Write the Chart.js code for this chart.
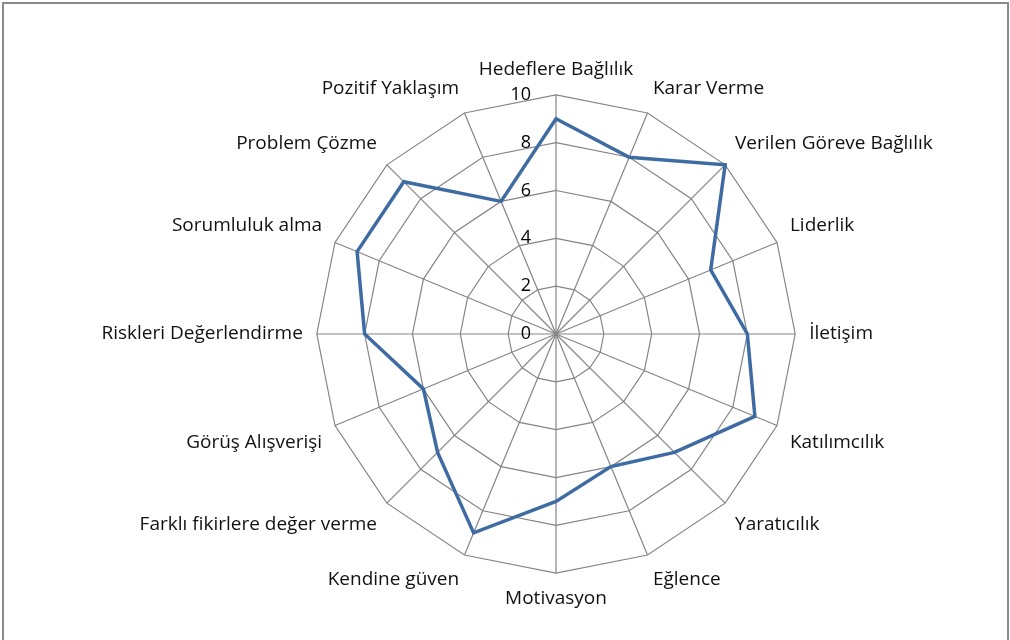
<!DOCTYPE html>
<html>
<head>
<meta charset="utf-8">
<script src="https://cdn.jsdelivr.net/npm/chart.js@4/dist/chart.umd.min.js"></script>
<style>
  html, body { margin: 0; padding: 0; background: #fff; overflow: hidden; }
  #frame { position: absolute; left: 2px; top: 2px; width: 1003px; height: 700px; border: 2px solid #8a8a8a; }
  #wrap { position: absolute; left: 0; top: 0; width: 1010px; height: 640px; }
</style>
</head>
<body>
<div id="frame"></div>
<div id="wrap"><canvas id="c" width="1010" height="640"></canvas></div>
<script>
// categories (clockwise from top)
const categories = [
  'Hedeflere Bağlılık', 'Karar Verme', 'Verilen Göreve Bağlılık', 'Liderlik',
  'İletişim', 'Katılımcılık', 'Yaratıcılık', 'Eğlence', 'Motivasyon',
  'Kendine güven', 'Farklı fikirlere değer verme', 'Görüş Alışverişi',
  'Riskleri Değerlendirme', 'Sorumluluk alma', 'Problem Çözme', 'Pozitif Yaklaşım'
];
const scores = [9, 8, 10, 7, 8, 9, 7, 6, 7, 9, 7, 6, 8, 9, 9, 6];
const tickValues = [0, 2, 4, 6, 8, 10];

const fontFamily = '"Open Sans", "Noto Sans", sans-serif';

// tick labels sit left of the vertical axis, like the original
const tickLabelsLeft = {
  id: 'tickLabelsLeft',
  afterDatasetsDraw(chart) {
    const scale = chart.scales.r;
    const ctx = chart.ctx;
    ctx.save();
    ctx.font = '18px ' + fontFamily;
    ctx.fillStyle = '#000';
    ctx.textAlign = 'right';
    ctx.textBaseline = 'middle';
    tickValues.forEach(v => {
      const d = scale.getDistanceFromCenterForValue(v);
      ctx.fillText(String(v), scale.xCenter - 25, scale.yCenter - d);
    });
    ctx.restore();
  }
};

new Chart(document.getElementById('c'), {
  type: 'radar',
  data: {
    labels: categories,
    datasets: [{
      data: scores,
      borderColor: '#3f6ba3',
      borderWidth: 3.5,
      fill: false,
      pointRadius: 0,
      tension: 0
    }]
  },
  options: {
    responsive: false,
    animation: false,
    layout: { padding: { top: 58, bottom: 30, left: 83, right: 15 } },
    plugins: { legend: { display: false }, tooltip: { enabled: false } },
    scales: {
      r: {
        min: 0,
        max: 10,
        ticks: { stepSize: 2, display: false },
        grid: { color: '#858585', lineWidth: 1.2 },
        angleLines: { color: '#858585', lineWidth: 1.2 },
        pointLabels: {
          color: '#111',
          padding: 14,
          font: { size: 19, family: fontFamily }
        }
      }
    }
  },
  plugins: [tickLabelsLeft]
});
</script>
</body>
</html>
